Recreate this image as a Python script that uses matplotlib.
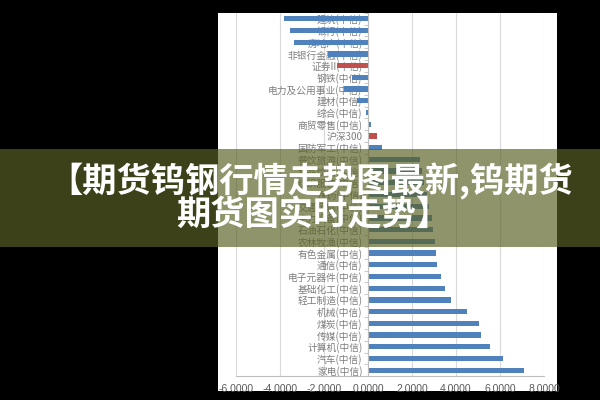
import numpy as np
import matplotlib.pyplot as plt
from matplotlib.patches import Rectangle
from matplotlib.ticker import FormatStrFormatter

plt.rcParams['font.family'] = ['Noto Sans CJK SC', 'DejaVu Sans']

# Industry returns (top to bottom as in the chart)
industries = ['建筑(中信)', '银行(中信)', '房地产(中信)', '非银行金融(中信)', '证券II(中信)',
              '钢铁(中信)', '电力及公用事业(中信)', '建材(中信)', '综合(中信)', '商贸零售(中信)',
              '沪深300', '国防军工(中信)', '餐饮旅游(中信)', '食品饮料(中信)', '纺织服装(中信)',
              '医药(中信)', '交通运输(中信)', '电力设备(中信)', '石油石化(中信)', '农林牧渔(中信)',
              '有色金属(中信)', '通信(中信)', '电子元器件(中信)', '基础化工(中信)', '轻工制造(中信)',
              '机械(中信)', '煤炭(中信)', '传媒(中信)', '计算机(中信)', '汽车(中信)', '家电(中信)']
changes = [-3.8, -3.55, -3.35, -1.8, -1.4,
           -0.75, -1.1, -0.5, -0.1, 0.15,
           0.4, 0.65, 2.35, 2.45, 2.55,
           2.7, 2.75, 2.9, 2.95, 3.05,
           3.1, 3.15, 3.3, 3.5, 3.75,
           4.5, 5.05, 5.15, 5.55, 6.15, 7.1]
highlight = ['证券II(中信)', '沪深300']
xticks = [-6, -4, -2, 0, 2, 4, 6, 8]

title_line1 = '【期货钨钢行情走势图最新,钨期货'
title_line2 = '期货图实时走势】'

fig = plt.figure(figsize=(6, 4), dpi=100, facecolor='black')

# white chart card on the black background
fig.patches.append(Rectangle((218 / 600, 9 / 400), 339 / 600, 378 / 400,
                             transform=fig.transFigure, facecolor='white',
                             edgecolor='none', zorder=-1))

ax = fig.add_axes([236 / 600, 24 / 400, 308 / 600, 363 / 400])
ax.set_facecolor('none')

y = np.arange(len(industries))
colors = ['#c0504d' if name in highlight else '#4f81bd' for name in industries]
ax.barh(y, changes, height=0.45, color=colors, zorder=2)

ax.set_xlim(-6, 8)
ax.set_ylim(len(industries) - 0.5, -0.25)
ax.set_xticks(xticks)
ax.xaxis.set_major_formatter(FormatStrFormatter('%.4f'))
ax.set_axisbelow(True)
ax.grid(axis='x', color='#d9d9d9', lw=0.8)

ax.spines['left'].set_position(('data', 0))
ax.spines['left'].set_color('#bfbfbf')
ax.spines['bottom'].set_color('#bfbfbf')
ax.spines['top'].set_visible(False)
ax.spines['right'].set_visible(False)

ax.set_yticks(y)
ax.set_yticklabels(industries, fontsize=7, color='#7f7f7f')
ax.set_yticks(np.arange(-0.5, len(industries), 1), minor=True)
ax.tick_params(axis='y', which='major', length=0, pad=4)
ax.tick_params(axis='y', which='minor', length=3, color='#bfbfbf')
ax.tick_params(axis='x', length=0, pad=6, labelsize=7.5, labelcolor='#595959')
for lbl in ax.get_xticklabels():
    lbl.set_family('Liberation Sans')

# semi-transparent olive banner with title
fig.patches.append(Rectangle((0, 153 / 400), 1, 98 / 400, transform=fig.transFigure,
                             facecolor=(90 / 255, 97 / 255, 37 / 255), alpha=0.68,
                             edgecolor='none', zorder=5))
fig.text(48 / 600, 1 - 181 / 400, title_line1, ha='left', va='center', fontsize=24.7,
         fontweight='bold', color='white', zorder=6)
fig.text(176 / 600, 1 - 214 / 400, title_line2, ha='left', va='center', fontsize=24.7,
         fontweight='bold', color='white', zorder=6)

fig.savefig('out.png', dpi=100, facecolor='black')
